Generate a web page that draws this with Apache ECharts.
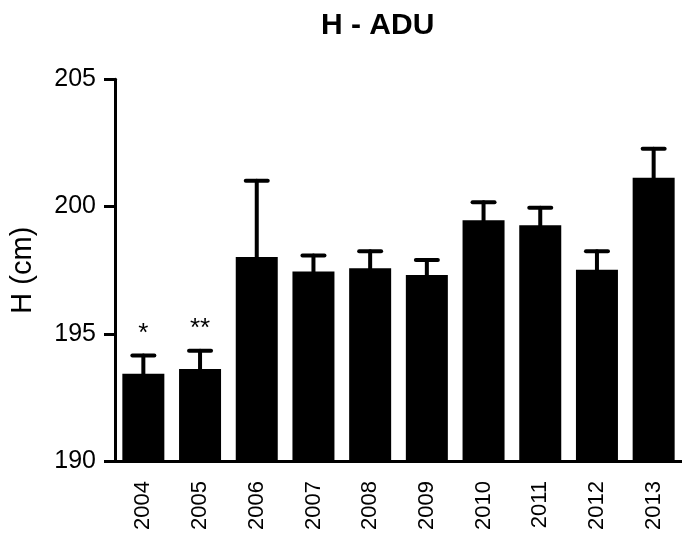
<!DOCTYPE html>
<html>
<head>
<meta charset="utf-8">
<script src="https://cdn.jsdelivr.net/npm/echarts@6/dist/echarts.min.js"></script>
<style>
  html, body { margin: 0; padding: 0; background: #fff; }
  #main { width: 682px; height: 542px; }
</style>
</head>
<body>
<div id="main"></div>
<script>
// data
var years = ['2004', '2005', '2006', '2007', '2008', '2009', '2010', '2011', '2012', '2013'];
var means = [193.43, 193.62, 198.02, 197.45, 197.57, 197.31, 199.46, 199.26, 197.52, 201.13];
var errors = [0.72, 0.71, 2.99, 0.63, 0.67, 0.59, 0.71, 0.69, 0.72, 1.14];
var stars = ['*', '**', '', '', '', '', '', '', '', ''];
var yTicks = [190, 195, 200, 205];

var font = 'Liberation Sans, Arial, sans-serif';

var chart = echarts.init(document.getElementById('main'));

var errData = years.map(function (y, i) {
  return [i, means[i], means[i] + errors[i], stars[i]];
});

var option = {
  backgroundColor: '#fff',
  animation: false,
  title: {
    text: 'H - ADU',
    left: 316,
    top: 6,
    textStyle: { fontFamily: font, fontSize: 30, fontWeight: 'bold', color: '#000' }
  },
  grid: { left: 113, right: -6, top: 79.3, bottom: 81, containLabel: false },
  xAxis: {
    type: 'category',
    data: years,
    axisLine: { lineStyle: { color: '#000', width: 3 } },
    axisTick: { alignWithLabel: true, length: 12, lineStyle: { color: '#000', width: 3 } },
    axisLabel: { rotate: 90, fontFamily: font, fontSize: 22, color: '#000', margin: 20 }
  },
  yAxis: {
    type: 'value',
    min: yTicks[0],
    max: yTicks[yTicks.length - 1],
    interval: 5,
    name: 'H (cm)',
    nameLocation: 'middle',
    nameRotate: 90,
    nameGap: 78,
    nameTextStyle: { fontFamily: font, fontSize: 29, color: '#000' },
    splitLine: { show: false },
    axisLine: { show: true, lineStyle: { color: '#000', width: 3 } },
    axisTick: { show: true, length: 11, lineStyle: { color: '#000', width: 3 } },
    axisLabel: { fontFamily: font, fontSize: 25, color: '#000', margin: 19 }
  },
  series: [
    {
      type: 'bar',
      data: means,
      barWidth: 42,
      itemStyle: { color: '#000' }
    },
    {
      type: 'custom',
      z: 5,
      data: errData,
      renderItem: function (params, api) {
        var x = api.value(0);
        var p0 = api.coord([x, api.value(1)]);
        var p1 = api.coord([x, api.value(2)]);
        var cap = 11;
        var st = { stroke: '#000', lineWidth: 4, lineCap: 'round' };
        var kids = [
          { type: 'line', shape: { x1: p0[0], y1: p0[1], x2: p1[0], y2: p1[1] }, style: st },
          { type: 'line', shape: { x1: p1[0] - cap, y1: p1[1], x2: p1[0] + cap, y2: p1[1] }, style: st }
        ];
        var s = errData[params.dataIndex][3];
        if (s) {
          kids.push({
            type: 'text',
            style: {
              text: s, x: p1[0], y: p1[1] - 22,
              align: 'center', verticalAlign: 'middle',
              fontFamily: font, fontSize: 26, fill: '#000'
            }
          });
        }
        return { type: 'group', children: kids };
      }
    }
  ]
};

chart.setOption(option);
</script>
</body>
</html>
